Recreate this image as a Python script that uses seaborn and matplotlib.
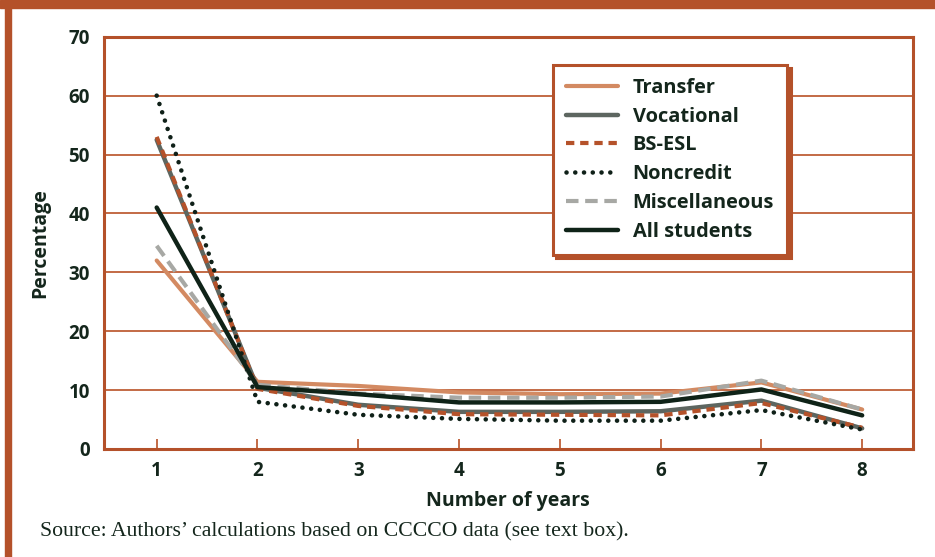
import matplotlib
matplotlib.use("Agg")
import matplotlib.pyplot as plt
import matplotlib.patches as mpatches
import numpy as np
import pandas as pd
import seaborn as sns

# values
years = [1, 2, 3, 4, 5, 6, 7, 8]
transfer = [32.0, 11.4, 10.7, 9.6, 9.3, 9.4, 11.3, 6.7]
vocational = [52.5, 10.4, 7.5, 6.3, 6.3, 6.4, 8.2, 3.5]
bs_esl = [53.0, 10.2, 7.3, 5.9, 5.8, 5.7, 7.8, 3.6]
noncredit = [60.0, 8.0, 5.8, 5.1, 4.8, 4.8, 6.6, 3.3]
misc = [34.5, 10.9, 9.4, 8.7, 8.7, 8.9, 11.6, 6.7]
all_students = [41.0, 10.5, 9.3, 7.9, 7.9, 8.0, 10.1, 5.7]

series_names = ["Transfer", "Vocational", "BS-ESL", "Noncredit", "Miscellaneous", "All students"]
y_ticks = [0, 10, 20, 30, 40, 50, 60, 70]

ORANGE = "#B4512A"
GRID = "#C36A45"
TEXT = "#14261C"

sns.set_theme(style="ticks")
plt.rcParams["font.family"] = ["Open Sans", "DejaVu Sans"]

df = pd.DataFrame({"year": years * 6,
                   "value": transfer + vocational + bs_esl + noncredit + misc + all_students,
                   "group": np.repeat(series_names, len(years))})

styles = {
    "Transfer": dict(color="#D38A62", lw=3.0, ls="-"),
    "Vocational": dict(color="#5D6660", lw=3.2, ls="-"),
    "BS-ESL": dict(color="#B5522A", lw=3.0, ls=(0, (2.0, 1.4))),
    "Noncredit": dict(color="#0F2018", lw=3.3, ls=(0, (0.01, 1.9))),
    "Miscellaneous": dict(color="#A7A8A4", lw=3.0, ls=(0, (3.0, 1.6))),
    "All students": dict(color="#0F2318", lw=3.2, ls="-"),
}

fig = plt.figure(figsize=(9.35, 5.57), dpi=100)
ax = fig.add_axes([0.111, 0.194, 0.865, 0.740])

for name in series_names:
    st = styles[name]
    sub = df[df["group"] == name]
    sns.lineplot(data=sub, x="year", y="value", ax=ax, color=st["color"],
                 linewidth=st["lw"], linestyle=st["ls"], label=name)
    ln = ax.lines[-1]
    if name == "Noncredit":
        ln.set_dash_capstyle("round")
    else:
        ln.set_dash_capstyle("butt")

ax.set_xlim(0.475, 8.5)
ax.set_ylim(0, 70)
ax.set_yticks(y_ticks)
ax.set_xticks(years)
ax.yaxis.grid(True, color=GRID, lw=1.4)
ax.set_axisbelow(True)
for sp in ax.spines.values():
    sp.set_visible(True)
    sp.set_color(ORANGE)
    sp.set_linewidth(2.2)
ax.tick_params(axis="x", bottom=True, top=False, direction="in", length=7.5, width=1.4,
               color=GRID, pad=9, labelsize=13.5, labelcolor=TEXT)
ax.tick_params(axis="y", left=False, right=False, length=0, pad=10, labelsize=13.5,
               labelcolor=TEXT)
for lab in ax.get_xticklabels() + ax.get_yticklabels():
    lab.set_fontweight("bold")

ax.set_xlabel("Number of years", fontsize=14, fontweight="bold", color=TEXT, labelpad=7)
ax.set_ylabel("Percentage", fontsize=14, fontweight="bold", color=TEXT, labelpad=13)

leg = ax.legend(loc="upper left", bbox_to_anchor=(0.555, 0.932), borderaxespad=0,
                fontsize=14.4, handlelength=2.6, labelspacing=0.44, handletextpad=0.75,
                borderpad=0.65, fancybox=False, framealpha=1,
                shadow={"ox": 2.5, "oy": -2.5, "facecolor": ORANGE,
                        "edgecolor": ORANGE, "alpha": 1})
leg.get_frame().set_edgecolor(ORANGE)
leg.get_frame().set_linewidth(2.2)
for t in leg.get_texts():
    t.set_fontweight("bold")
    t.set_color(TEXT)

# outer frame bars
fig.patches.append(mpatches.Rectangle((0, 1 - 8 / 557), 1, 8 / 557, transform=fig.transFigure,
                                      color=ORANGE, zorder=0))
fig.patches.append(mpatches.Rectangle((5 / 935, 0), 6 / 935, 1, transform=fig.transFigure,
                                      color=ORANGE, zorder=0))

fig.text(40 / 935, 1 - 532 / 557, "Source: Authors\u2019 calculations based on CCCCO data (see text box).",
         fontsize=15.7, family=["Liberation Serif", "DejaVu Serif"], color=TEXT, va="center", ha="left")

fig.savefig("out.png", dpi=100)
